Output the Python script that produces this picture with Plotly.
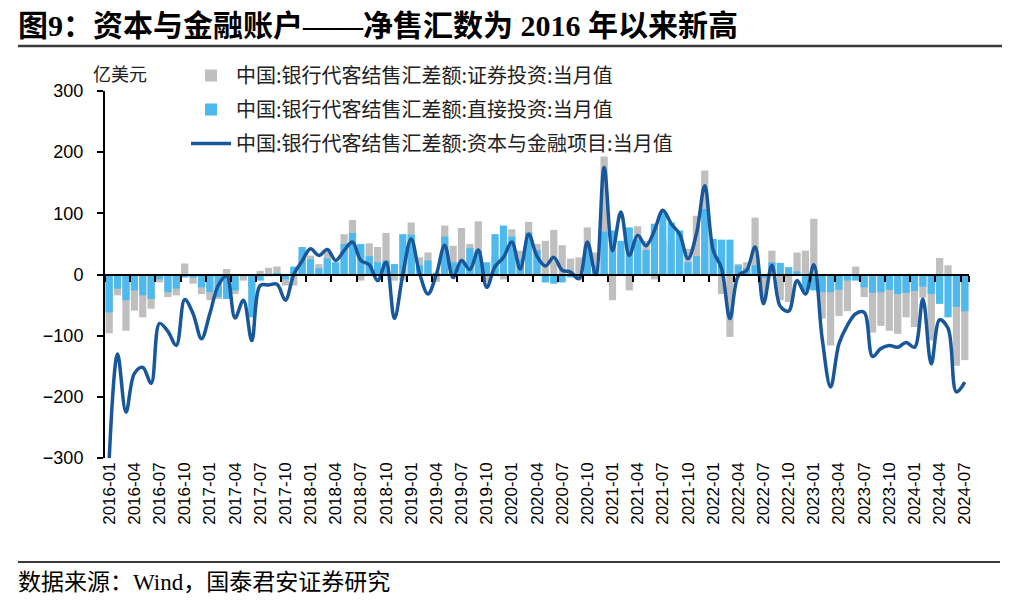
import plotly.graph_objects as go

# ---- data (亿美元) ----
months = [f"{y}-{m:02d}" for y in range(2016, 2025) for m in range(1, 13)][:103]
tick_labels = months[::3]

securities = [-96, -34, -92, -59, -70, -56, -13, -37, -34, 18,
              -15, -32, -42, -40, 9, -32, -10, -20, 6, 11,
              13, -18, -18, 30, 31, 17, 42, 15, 66, 89,
              -10, 51, 45, 68, -10, -10, 85, 28, 36, -12,
              80, 47, 76, 50, 87, -12, 30, -8, 74, 39,
              86, 50, 55, 73, 48, 26, 28, 77, 36, 193,
              -42, 40, -26, 79, 55, -8, 60, 50, 60, 42,
              96, 170, 58, -32, -102, 17, 20, 93, -37, 39,
              -42, -45, 36, 39, 91, -72, -116, -68, -60, 13,
              -37, -95, -84, -92, -97, -70, -86, -38, -108, 27,
              15, -149, -140]

direct = [-62, -23, -42, -26, -34, -40, -8, -29, -23, -5,
          -5, -21, -29, -37, -40, -26, -3, -70, -10, -3,
          2, -8, 13, 45, 25, 10, 26, 20, 50, 68,
          50, 30, 20, 23, 17, 66, 65, 15, 23, 3,
          62, 20, 20, 43, 39, 20, 66, 80, 62, 25,
          69, 40, -13, -15, -13, -5, -8, 45, 15, 70,
          72, 55, 77, 57, 40, 83, 102, 85, 72, 20,
          30, 107, 58, 57, 57, 15, 10, 15, -5, 20,
          19, 12, 5, -27, -26, -29, -29, -25, -10, -10,
          -21, -30, -29, -25, -32, -30, -27, -20, -32, -48,
          -70, -53, -60]

capital = [-302, -130, -225, -162, -152, -178, -80, -93, -116, -41,
           -64, -105, -64, -18, -2, -71, -42, -108, -18, -17,
           -16, -42, 0, 22, 42, 31, 41, 23, 39, 53,
           23, 16, -10, 20, -72, 0, 58, 2, -32, 0,
           48, -5, 23, 8, 40, -21, 13, 28, 53, 9,
           66, 30, 14, 28, 7, 4, -7, 53, 0, 175,
           39, 102, 31, 64, 47, 72, 105, 83, 66, 26,
           66, 145, 40, 10, -72, -2, 7, 45, -48, 15,
           -52, -60, -10, -32, 16, -105, -184, -113, -83, -64,
           -62, -134, -121, -116, -119, -111, -119, -40, -146, -74,
           -88, -192, -176]

y_ticks = [-300, -200, -100, 0, 100, 200, 300]

names = ["中国:银行代客结售汇差额:证券投资:当月值",
         "中国:银行代客结售汇差额:直接投资:当月值",
         "中国:银行代客结售汇差额:资本与金融项目:当月值"]

CJK = "Noto Sans CJK SC"
SANS = "Liberation Sans, Arial"

fig = go.Figure()
fig.add_trace(go.Bar(x=months, y=securities, name=names[0], legendgroup="g1",
                     marker=dict(color="#BFBFBF", line=dict(width=0))))
fig.add_trace(go.Bar(x=months, y=direct, name=names[1], legendgroup="g2",
                     marker=dict(color="#4DB9EC", line=dict(width=0))))
fig.add_trace(go.Scatter(x=months, y=capital, name=names[2], legendgroup="g3",
                         mode="lines", xaxis="x2",
                         line=dict(color="#18579A", width=3.5, shape="spline", smoothing=1.0)))

# page body has an 8px margin; work in screen coordinates
OFF = 8
FW, FH = 1024 - 2 * OFF, 603 - 2 * OFF
PL, PR, PT, PB = 105, 969, 91, 458          # plot area in screen px
L, T = PL - OFF, PT - OFF
R, B = FW - (PR - OFF), FH - (PB - OFF)
W, H = PR - PL, PB - PT

def px_x(x):
    return (x - PL) / W

def px_y(y):
    return 1 - (y - PT) / H

fig.update_layout(
    width=FW, height=FH,
    margin=dict(l=L, r=R, t=T, b=B, autoexpand=False),
    paper_bgcolor="white", plot_bgcolor="white",
    barmode="overlay", bargap=0.14,
    showlegend=True,
    legend=dict(x=px_x(186), y=px_y(56), xanchor="left", yanchor="top",
                bgcolor="rgba(0,0,0,0)", font=dict(family=CJK, size=20, color="#222"),
                tracegroupgap=5, itemwidth=40, traceorder="grouped"),
    xaxis=dict(type="category", anchor="free", position=0.5,
               range=[-0.5, len(months) - 0.5],
               showline=True, linecolor="black", linewidth=2,
               ticks="outside", ticklen=6, tickwidth=2, tickcolor="black",
               tickson="boundaries", tickvals=tick_labels,
               showticklabels=False, showgrid=False, zeroline=False),
    xaxis2=dict(type="category", overlaying="x", matches="x", anchor="y", side="bottom",
                range=[-0.5, len(months) - 0.5],
                showline=False, ticks="", tickvals=tick_labels, ticktext=tick_labels,
                tickangle=-90, tickfont=dict(family=SANS, size=17, color="black"),
                showgrid=False, zeroline=False),
    yaxis=dict(range=[-300, 300], tickvals=y_ticks,
               showline=True, linecolor="black", linewidth=2,
               ticks="outside", ticklen=6, tickwidth=2, tickcolor="black",
               ticklabelstandoff=10,
               tickfont=dict(family=SANS, size=18, color="black"),
               showgrid=False, zeroline=False),
)

fig.add_annotation(text="<b>图9：资本与金融账户——净售汇数为 2016 年以来新高</b>",
                   xref="paper", yref="paper", x=px_x(16), y=px_y(26),
                   xanchor="left", yanchor="middle", showarrow=False,
                   font=dict(family="Liberation Serif, " + CJK, size=30, color="black"))
fig.add_annotation(text="亿美元", xref="paper", yref="paper", x=px_x(91), y=px_y(73),
                   xanchor="left", yanchor="middle", showarrow=False,
                   font=dict(family=CJK, size=18, color="#222"))
fig.add_annotation(text="数据来源：Wind，国泰君安证券研究", xref="paper", yref="paper",
                   x=px_x(16), y=px_y(582), xanchor="left", yanchor="middle", showarrow=False,
                   font=dict(family="Liberation Serif, " + CJK, size=23, color="black"))

fig.add_shape(type="line", xref="paper", yref="paper", x0=px_x(18), x1=px_x(1002),
              y0=px_y(46), y1=px_y(46), line=dict(color="#3a3a3a", width=2.5))
fig.add_shape(type="line", xref="paper", yref="paper", x0=px_x(18), x1=px_x(1000),
              y0=px_y(562), y1=px_y(562), line=dict(color="#3a3a3a", width=2))

fig.write_html("out.html")
